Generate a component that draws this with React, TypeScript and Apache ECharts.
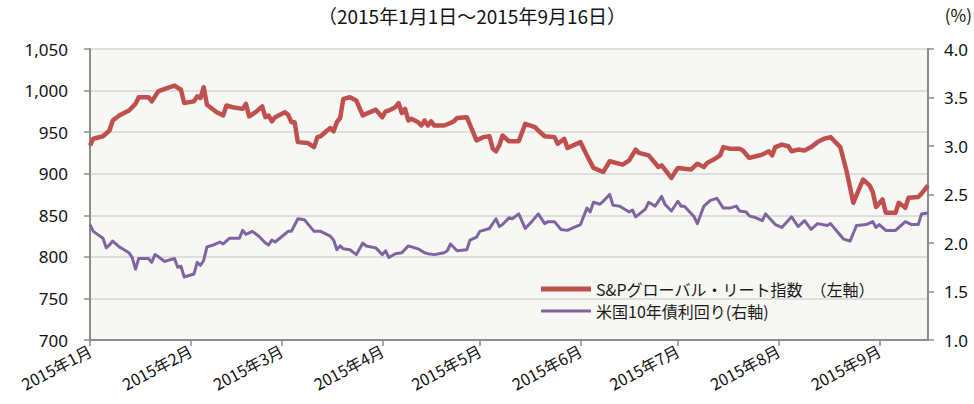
import React, { useEffect, useRef } from "react";
import * as echarts from "echarts";

const reitDates = ["1/1","1/2","1/5","1/7","1/8","1/10","1/13","1/15","1/16","1/19","1/20","1/22","1/24","1/27","1/29","1/30","2/2","2/3","2/4","2/5","2/6","2/9","2/10","2/11","2/12","2/14","2/17","2/18","2/19","2/21","2/23","2/24","2/25","2/26","2/27","3/2","3/3","3/4","3/5","3/6","3/9","3/11","3/12","3/13","3/15","3/16","3/17","3/18","3/19","3/20","3/22","3/24","3/26","3/27","3/30","4/1","4/2","4/3","4/5","4/6","4/7","4/8","4/9","4/10","4/12","4/13","4/14","4/15","4/16","4/17","4/20","4/22","4/23","4/24","4/27","4/30","5/2","5/4","5/5","5/6","5/7","5/8","5/10","5/13","5/15","5/18","5/19","5/21","5/24","5/25","5/27","5/28","6/1","6/3","6/5","6/8","6/10","6/14","6/16","6/18","6/19","6/22","6/25","6/26","6/29","7/1","7/5","7/7","7/9","7/10","7/12","7/14","7/15","7/17","7/20","7/21","7/23","7/25","7/27","7/29","7/30","7/31","8/2","8/4","8/5","8/7","8/9","8/11","8/13","8/15","8/17","8/18","8/20","8/22","8/24","8/27","8/29","8/30","8/31","9/2","9/3","9/6","9/7","9/9","9/10","9/13","9/14","9/16"];
const reitValues = [934,942,945,952,964,970,976,984,992,992,987,999,1002,1006,1001,985,987,993,991,1004,983,974,972,970,982,980,978,984,969,974,981,968,970,963,968,974,971,962,962,938,937,932,944,945,952,955,951,962,967,990,992,988,970,972,977,968,975,976,980,985,973,978,964,966,962,958,964,958,963,958,958,961,963,967,968,940,944,945,930,927,934,946,939,939,960,956,952,945,944,936,942,931,938,922,907,902,915,911,916,929,925,922,908,910,895,907,905,912,908,913,917,922,932,930,930,928,919,921,923,927,922,932,935,933,927,929,928,932,938,942,944,940,932,902,865,893,886,878,860,869,853,853,865,859,871,872,876,886];

const yieldDates = ["1/1","1/2","1/5","1/6","1/7","1/8","1/10","1/11","1/13","1/14","1/15","1/16","1/19","1/20","1/21","1/22","1/24","1/27","1/28","1/29","1/30","2/2","2/3","2/4","2/5","2/6","2/8","2/10","2/11","2/13","2/16","2/17","2/18","2/20","2/22","2/24","2/25","2/26","2/27","3/3","3/4","3/6","3/8","3/9","3/11","3/13","3/16","3/17","3/18","3/19","3/20","3/22","3/24","3/26","3/27","3/30","4/1","4/2","4/3","4/5","4/7","4/9","4/12","4/14","4/15","4/17","4/20","4/21","4/22","4/24","4/27","4/28","4/30","5/1","5/4","5/6","5/7","5/8","5/10","5/11","5/13","5/15","5/17","5/19","5/21","5/22","5/24","5/26","5/28","5/30","6/1","6/3","6/4","6/5","6/7","6/8","6/10","6/11","6/13","6/14","6/16","6/17","6/18","6/21","6/22","6/24","6/26","6/27","6/29","7/1","7/2","7/3","7/6","7/7","7/9","7/11","7/13","7/15","7/17","7/19","7/20","7/22","7/23","7/25","7/27","7/28","7/31","8/2","8/5","8/7","8/9","8/11","8/13","8/16","8/17","8/20","8/21","8/23","8/25","8/28","8/30","8/31","9/1","9/3","9/6","9/8","9/9","9/11","9/13","9/14","9/16"];
const yieldValues = [2.19,2.12,2.05,1.95,1.98,2.02,1.96,1.94,1.9,1.85,1.73,1.84,1.84,1.8,1.88,1.86,1.81,1.84,1.75,1.76,1.65,1.68,1.8,1.77,1.82,1.96,1.98,2.01,1.99,2.05,2.05,2.13,2.09,2.12,2.07,2.0,1.98,2.03,2.01,2.12,2.12,2.25,2.24,2.2,2.12,2.12,2.07,2.03,1.93,1.97,1.94,1.93,1.88,2.0,1.97,1.95,1.88,1.92,1.85,1.89,1.9,1.97,1.94,1.9,1.89,1.88,1.9,1.92,1.99,1.92,1.93,2.03,2.06,2.12,2.15,2.25,2.17,2.19,2.26,2.25,2.3,2.15,2.22,2.3,2.2,2.22,2.22,2.14,2.13,2.16,2.19,2.36,2.32,2.42,2.4,2.43,2.5,2.39,2.38,2.36,2.32,2.34,2.27,2.35,2.42,2.38,2.48,2.4,2.33,2.43,2.38,2.38,2.27,2.2,2.38,2.44,2.46,2.36,2.36,2.38,2.33,2.32,2.28,2.26,2.23,2.3,2.19,2.16,2.27,2.17,2.23,2.14,2.2,2.18,2.2,2.08,2.04,2.02,2.18,2.19,2.22,2.16,2.19,2.13,2.13,2.19,2.22,2.19,2.19,2.3,2.31];

const seriesNames = ["S&Pグローバル・リート指数\u3000（左軸）", "米国10年債利回り(右軸)"];
const subtitle = "（2015年1月1日～2015年9月16日）";
const rightUnit = "(%)";
const startDate = "2015-01-01";
const endDate = "2015-09-16";

function buildDays(): string[] {
  const out: string[] = [];
  const d = new Date(startDate + "T00:00:00Z");
  const end = new Date(endDate + "T00:00:00Z");
  while (d.getTime() <= end.getTime()) {
    out.push(`${d.getUTCMonth() + 1}/${d.getUTCDate()}`);
    d.setUTCDate(d.getUTCDate() + 1);
  }
  return out;
}

const isMonthStart = (_i: number, v: string) => v.split("/")[1] === "1";

export default function App() {
  const ref = useRef<HTMLDivElement>(null);
  useEffect(() => {
    if (!ref.current) return;
    const chart = echarts.init(ref.current, undefined, { renderer: "svg" });
    const days = buildDays();
    const numFont = "'Noto Sans', sans-serif";
    const jpFont = "'Noto Sans CJK JP', sans-serif";
    chart.setOption({
      animation: false,
      backgroundColor: "#ffffff",
      grid: {
        left: 90,
        right: 46,
        top: 49,
        bottom: 64,
        show: true,
        backgroundColor: "#F7F7F3",
        borderWidth: 0,
      },
      graphic: [
        {
          type: "text",
          x: 472,
          y: 6,
          style: { text: subtitle, font: `19px ${jpFont}`, fill: "#111", textAlign: "center" },
        },
        {
          type: "text",
          right: 2,
          top: 6,
          style: { text: rightUnit, font: `17px ${jpFont}`, fill: "#111" },
        },
      ],
      legend: {
        orient: "vertical",
        left: 541,
        top: 281,
        padding: 0,
        itemWidth: 50,
        itemHeight: 14,
        itemGap: 6,
        textStyle: { fontFamily: jpFont, fontSize: 16, color: "#1a1a1a" },
        data: [
          { name: seriesNames[0], icon: "path://M0,0H50V5H0Z" },
          { name: seriesNames[1], icon: "path://M0,0H50V3H0Z" },
        ],
      },
      xAxis: {
        type: "category",
        data: days,
        boundaryGap: false,
        axisLine: { lineStyle: { color: "#8C8C8C", width: 2 } },
        axisTick: { interval: isMonthStart, length: 6, lineStyle: { color: "#8C8C8C", width: 1.5 } },
        axisLabel: {
          interval: isMonthStart,
          rotate: 28,
          margin: 9,
          fontFamily: jpFont,
          fontSize: 16,
          lineHeight: 16,
          color: "#111",
          formatter: (v: string) => `2015年${v.split("/")[0]}月`,
        },
        splitLine: { show: false },
      },
      yAxis: [
        {
          type: "value",
          min: 700,
          max: 1050,
          interval: 50,
          position: "left",
          axisLine: { show: true, lineStyle: { color: "#8C8C8C", width: 2 } },
          axisTick: { show: true, length: 6, lineStyle: { color: "#8C8C8C", width: 1.5 } },
          axisLabel: {
            margin: 22,
            fontFamily: numFont,
            fontSize: 17,
            color: "#111",
            formatter: (v: number) => v.toLocaleString("en-US"),
          },
          splitLine: { show: true, lineStyle: { color: "#D6D6D6", width: 1.5 } },
        },
        {
          type: "value",
          min: 1.0,
          max: 4.0,
          interval: 0.5,
          position: "right",
          axisLine: { show: true, lineStyle: { color: "#8C8C8C", width: 2 } },
          axisTick: { show: true, length: 6, lineStyle: { color: "#8C8C8C", width: 1.5 } },
          axisLabel: {
            margin: 16,
            fontFamily: numFont,
            fontSize: 17,
            color: "#111",
            formatter: (v: number) => v.toFixed(1),
          },
          splitLine: { show: false },
        },
      ],
      series: [
        {
          name: seriesNames[0],
          type: "line",
          yAxisIndex: 0,
          showSymbol: false,
          symbol: "none",
          color: "#C0504D",
          lineStyle: { color: "#C0504D", width: 4.5, join: "round" },
          data: reitDates.map((d, i) => [d, reitValues[i]]),
          z: 3,
        },
        {
          name: seriesNames[1],
          type: "line",
          yAxisIndex: 1,
          showSymbol: false,
          symbol: "none",
          color: "#8064A2",
          lineStyle: { color: "#8064A2", width: 3, join: "round" },
          data: yieldDates.map((d, i) => [d, yieldValues[i]]),
          z: 2,
        },
      ],
    });
    return () => chart.dispose();
  }, []);
  return (
    <div
      ref={ref}
      style={{ position: "fixed", left: 0, top: 0, width: 974, height: 404 }}
    />
  );
}
